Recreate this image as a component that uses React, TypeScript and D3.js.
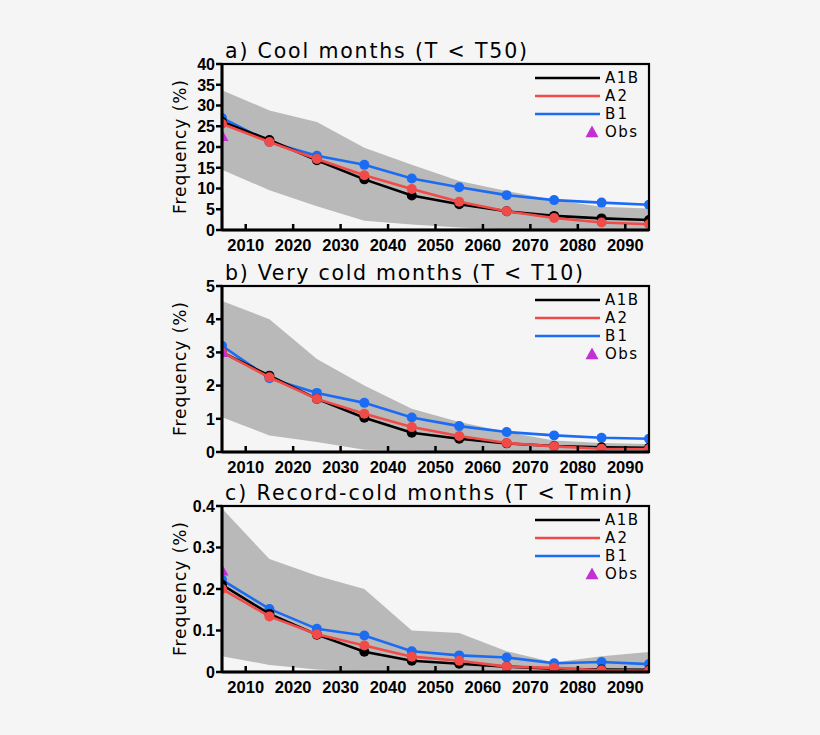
import React from 'react';
import * as d3 from 'd3';

// decade centres
const years = [2005, 2015, 2025, 2035, 2045, 2055, 2065, 2075, 2085, 2095];

// a) Cool months (T < T50)
const coolA1B = [26.1, 21.7, 16.8, 12.2, 8.3, 6.2, 4.5, 3.4, 2.8, 2.4];
const coolA2 = [25.6, 21.2, 17.1, 13.2, 9.9, 6.8, 4.5, 2.9, 1.8, 1.4];
const coolB1 = [27.0, 21.2, 17.9, 15.7, 12.4, 10.3, 8.4, 7.2, 6.6, 6.1];
const coolUpper = [33.7, 28.8, 26.0, 19.8, 15.7, 11.8, 9.4, 7.2, 5.6, 5.2];
const coolLower = [14.5, 9.6, 5.7, 2.2, 1.3, 0.6, 0.2, 0.1, 0, 0];
const coolObs = 22.7;

// b) Very cold months (T < T10)
const veryA1B = [3.0, 2.3, 1.6, 1.03, 0.58, 0.4, 0.26, 0.18, 0.14, 0.13];
const veryA2 = [3.0, 2.25, 1.6, 1.15, 0.75, 0.48, 0.27, 0.17, 0.1, 0.09];
const veryB1 = [3.2, 2.22, 1.78, 1.48, 1.04, 0.78, 0.6, 0.5, 0.43, 0.4];
const veryUpper = [4.55, 4.0, 2.8, 2.0, 1.3, 0.9, 0.6, 0.35, 0.27, 0.24];
const veryLower = [1.05, 0.5, 0.3, 0.07, 0.05, 0, 0, 0, 0, 0];
const veryObs = 3.02;

// c) Record-cold months (T < Tmin)
const recA1B = [0.21, 0.14, 0.09, 0.049, 0.027, 0.02, 0.013, 0.008, 0.006, 0.005];
const recA2 = [0.2, 0.134, 0.091, 0.064, 0.037, 0.027, 0.013, 0.01, 0.004, 0.003];
const recB1 = [0.222, 0.152, 0.104, 0.088, 0.05, 0.04, 0.035, 0.021, 0.024, 0.019];
const recUpper = [0.394, 0.272, 0.232, 0.2, 0.1, 0.094, 0.05, 0.023, 0.038, 0.048];
const recLower = [0.038, 0.017, 0.006, 0.002, 0, 0, 0, 0, 0, 0];
const recObs = 0.245;

const xTicks = [2010, 2020, 2030, 2040, 2050, 2060, 2070, 2080, 2090];

const COLORS = { A1B: '#000000', A2: '#f04b48', B1: '#1b6cf2', Obs: '#c22fd2', band: '#b9b9b9' };
const FONT = '"Liberation Sans", Arial, Helvetica, sans-serif';
const WIDE = '"DejaVu Sans", Verdana, sans-serif';

interface PanelDef {
  title: string;
  titleLen: number;
  top: number;
  yMax: number;
  yTicks: number[];
  a1b: number[];
  a2: number[];
  b1: number[];
  upper: number[];
  lower: number[];
  obs: number;
}

const panels: PanelDef[] = [
  { title: 'a) Cool months (T < T50)', titleLen: 302, top: 64, yMax: 40,
    yTicks: d3.range(0, 41, 5), a1b: coolA1B, a2: coolA2, b1: coolB1,
    upper: coolUpper, lower: coolLower, obs: coolObs },
  { title: 'b) Very cold months (T < T10)', titleLen: 358, top: 286, yMax: 5,
    yTicks: d3.range(0, 6, 1), a1b: veryA1B, a2: veryA2, b1: veryB1,
    upper: veryUpper, lower: veryLower, obs: veryObs },
  { title: 'c) Record-cold months (T < Tmin)', titleLen: 407, top: 506, yMax: 0.4,
    yTicks: [0, 0.1, 0.2, 0.3, 0.4], a1b: recA1B, a2: recA2, b1: recB1,
    upper: recUpper, lower: recLower, obs: recObs },
];

const LEFT = 222;
const RIGHT = 649;
const PANEL_H = 166;

const Panel: React.FC<{ p: PanelDef; idx: number }> = ({ p, idx }) => {
  const x = d3.scaleLinear().domain([2005, 2095]).range([LEFT, RIGHT]);
  const y = d3.scaleLinear().domain([0, p.yMax]).range([p.top + PANEL_H, p.top]);
  const bottom = p.top + PANEL_H;
  const clipId = `clip-${idx}`;

  const area = d3.area<number>()
    .x((_, i) => x(years[i]))
    .y0((_, i) => y(p.lower[i]))
    .y1(d => y(d));
  const line = d3.line<number>()
    .x((_, i) => x(years[i]))
    .y(d => y(d));

  const series = [
    { key: 'B1', data: p.b1 },
    { key: 'A1B', data: p.a1b },
    { key: 'A2', data: p.a2 },
  ];

  const tri = (cx: number, cy: number, s: number) =>
    `M${cx},${cy - s} L${cx + s},${cy + s * 0.8} L${cx - s},${cy + s * 0.8} Z`;

  const legendRows = ['A1B', 'A2', 'B1'];

  return (
    <g>
      <defs>
        <clipPath id={clipId}>
          <rect x={LEFT} y={p.top} width={RIGHT - LEFT} height={PANEL_H} />
        </clipPath>
      </defs>
      <g clipPath={`url(#${clipId})`}>
        <path d={area(p.upper) || ''} fill={COLORS.band} />
        {series.map(s => (
          <g key={s.key}>
            <path d={line(s.data) || ''} fill="none" stroke={(COLORS as any)[s.key]} strokeWidth={2.6} />
            {s.data.map((v, i) => (
              <circle key={i} cx={x(years[i])} cy={y(v)} r={5} fill={(COLORS as any)[s.key]} />
            ))}
          </g>
        ))}
        <path d={tri(x(2005), y(p.obs), 6.5)} fill={COLORS.Obs} />
      </g>

      {/* frame */}
      <rect x={LEFT} y={p.top} width={RIGHT - LEFT} height={PANEL_H} fill="none" stroke="#000" strokeWidth={2.2} />
      <line x1={LEFT} x2={LEFT} y1={p.top} y2={bottom} stroke="#000" strokeWidth={3} />
      <line x1={LEFT} x2={RIGHT} y1={bottom} y2={bottom} stroke="#000" strokeWidth={3} />

      {/* y axis */}
      {p.yTicks.map(t => (
        <g key={t}>
          <line x1={LEFT - 6} x2={LEFT} y1={y(t)} y2={y(t)} stroke="#000" strokeWidth={2.5} />
          <text x={LEFT - 7} y={y(t)} dy="0.36em" textAnchor="end" fontFamily={FONT}
            fontWeight="bold" fontSize={16}>{String(t)}</text>
        </g>
      ))}
      <text transform={`translate(186,${p.top + PANEL_H / 2}) rotate(-90)`} textAnchor="middle"
        fontFamily={WIDE} fontSize={17} textLength={134} lengthAdjust="spacing">Frequency (%)</text>

      {/* x axis */}
      {xTicks.map(t => (
        <g key={t}>
          <line x1={x(t)} x2={x(t)} y1={bottom} y2={bottom - 6} stroke="#000" strokeWidth={2.5} />
          <text x={x(t)} y={bottom + 21} textAnchor="middle" fontFamily={FONT}
            fontWeight="bold" fontSize={16.5}>{t}</text>
        </g>
      ))}

      {/* title */}
      <text x={225} y={p.top - 6} fontFamily={WIDE} fontSize={20.5}
        textLength={p.titleLen} lengthAdjust="spacing">{p.title}</text>

      {/* legend */}
      {legendRows.map((k, i) => (
        <g key={k}>
          <line x1={535} x2={600} y1={p.top + 14 + i * 18} y2={p.top + 14 + i * 18}
            stroke={(COLORS as any)[k]} strokeWidth={2.6} />
          <text x={605} y={p.top + 14 + i * 18} dy="0.36em" fontFamily={WIDE} fontSize={15}
            textLength={k.length * 11} lengthAdjust="spacing">{k}</text>
        </g>
      ))}
      <path d={tri(592, p.top + 14 + 3 * 18, 6.5)} fill={COLORS.Obs} />
      <text x={605} y={p.top + 14 + 3 * 18} dy="0.36em" fontFamily={WIDE} fontSize={15}
        textLength={32} lengthAdjust="spacing">Obs</text>
    </g>
  );
};

export default function App() {
  return (
    <svg width={820} height={735} style={{ position: 'absolute', left: 0, top: 0, background: '#f5f5f5' }}>
      <rect x={0} y={0} width={820} height={735} fill="#f5f5f5" />
      {panels.map((p, i) => (
        <Panel key={i} p={p} idx={i} />
      ))}
    </svg>
  );
}
